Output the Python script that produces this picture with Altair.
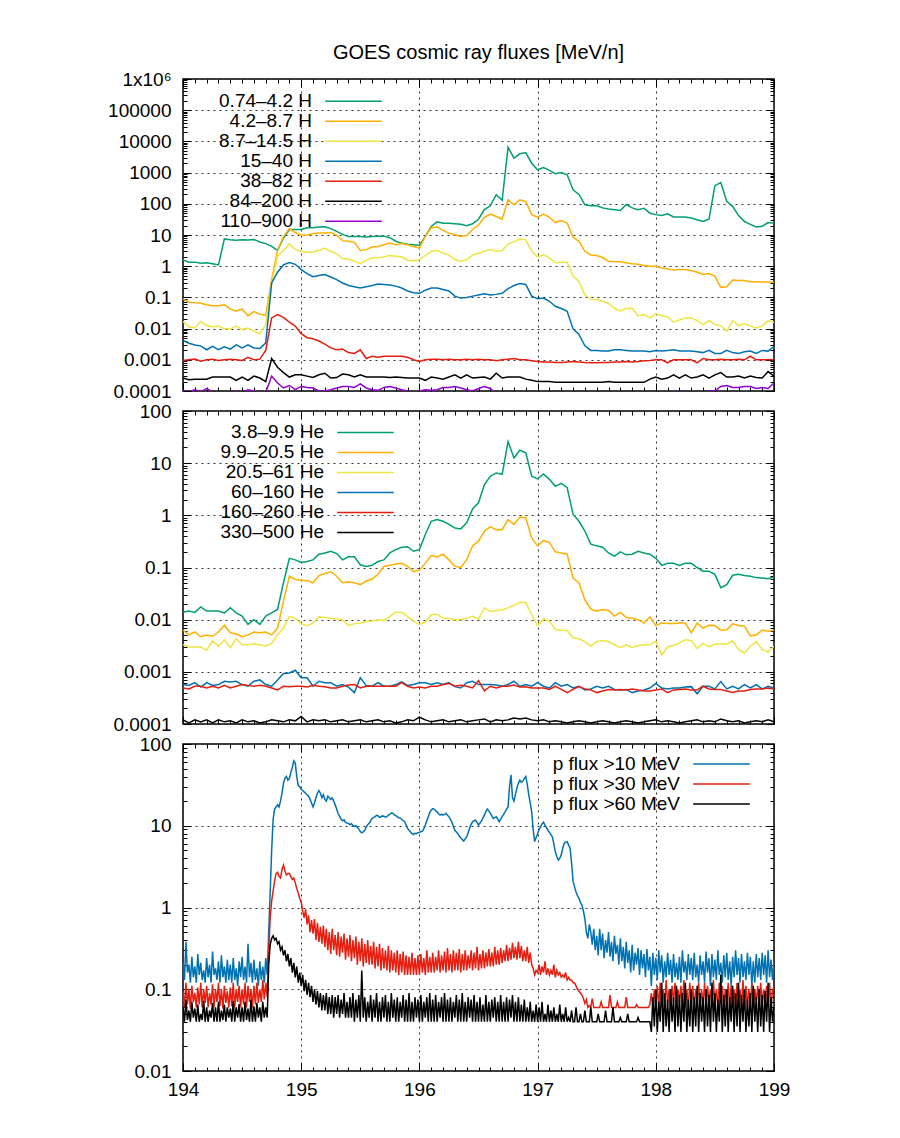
import altair as alt
import pandas as pd

TITLE = "GOES cosmic ray fluxes [MeV/n]"
FONT = "Liberation Sans"

T_START = 194.0
STEP_A = 0.05     # sampling of panels 1 and 2
STEP_B = 0.0125   # sampling of panel 3

X_MAJOR = [194, 195, 196, 197, 198, 199]
X_LABELS = ["194", "195", "196", "197", "198", "199"]

GREEN, ORANGE, YELLOW, BLUE, RED, BLACK, PURPLE = (
    "#009e73", "#ffb000", "#f0e442", "#0072b2", "#e51e10", "#000000", "#9400d3")

# ---------------- panel 1 : protons ----------------
H_NAMES = ["0.74–4.2 H", "4.2–8.7 H", "8.7–14.5 H", "15–40 H", "38–82 H", "84–200 H", "110–900 H"]
H_COLORS = [GREEN, ORANGE, YELLOW, BLUE, RED, BLACK, PURPLE]

H_074_42 = [1.6, 1.35, 1.35, 1.25, 1.3, 1.2, 1.1, 7.5, 7.1, 6.8,
            7.1, 6.9, 7.2, 6.0, 5.3, 4.3, 3.2, 8.0, 15, 15,
            15, 17, 17, 18, 18.5, 16, 13, 10.5, 8.9, 8.9,
            8.9, 8.7, 8.9, 9.2, 9.2, 8.2, 6.3, 5.5, 5.1, 4.9,
            4.6, 9.0, 18.7, 26.5, 24, 24, 23, 22, 20, 23,
            32, 65, 86, 195, 130, 6500, 2900, 4000, 4400, 2000,
            1230, 1450, 1180, 920, 1000, 850, 280, 200, 93, 86,
            86, 74, 68, 65, 61, 95, 74, 65, 72, 50,
            45, 42, 48, 38, 38, 38, 35, 31, 27, 32,
            380, 480, 120, 83, 42, 27, 22, 18, 19, 25, 24]
H_42_87 = [0.089, 0.07, 0.068, 0.065, 0.058, 0.054, 0.054, 0.058, 0.042, 0.037,
           0.042, 0.026, 0.035, 0.029, 0.027, 0.37, 3.2, 8.9, 16, 12,
           9.8, 10, 11, 11.5, 11.5, 12, 9.8, 6.6, 6.3, 5.8,
           3.2, 3.4, 4.1, 4.3, 4.9, 5.5, 4.9, 5.3, 4.9, 4.3,
           3.8, 9, 17, 18, 14, 11.5, 10.2, 9, 9.6, 15,
           21, 37, 47, 39, 32, 135, 93, 135, 120, 45,
           37, 47, 37, 25, 29, 24, 8.5, 6.3, 3.0, 2.3,
           2.2, 1.9, 1.45, 1.4, 1.4, 1.3, 1.2, 1.15, 1.05, 1.0,
           1.0, 0.88, 0.82, 0.75, 0.78, 0.78, 0.73, 0.64, 0.54, 0.58,
           0.48, 0.21, 0.22, 0.36, 0.35, 0.35, 0.32, 0.32, 0.31, 0.31, 0.3]
H_87_145 = [0.017, 0.0115, 0.0105, 0.017, 0.0125, 0.0115, 0.012, 0.0098, 0.0098, 0.012,
            0.0093, 0.0105, 0.0082, 0.0069, 0.0135, 0.29, 2.1, 3.2, 5.2, 3.4,
            3.0, 2.8, 2.8, 3.2, 3.8, 3.0, 2.5, 1.76, 1.7, 1.45,
            1.2, 1.55, 1.85, 1.85, 2.0, 2.2, 2.1, 2.0, 1.55, 1.5,
            1.6, 2.2, 3.0, 3.2, 2.6, 2.3, 1.6, 1.45, 1.6, 2.3,
            2.6, 3.0, 3.4, 3.0, 3.2, 5.2, 6.0, 7.6, 7.0, 3.0,
            2.0, 2.3, 1.85, 1.3, 1.35, 1.35, 0.48, 0.32, 0.12, 0.088,
            0.085, 0.075, 0.064, 0.044, 0.037, 0.044, 0.045, 0.026, 0.028, 0.022,
            0.03, 0.026, 0.024, 0.016, 0.019, 0.022, 0.022, 0.018, 0.0135, 0.018,
            0.0135, 0.0125, 0.0082, 0.018, 0.0125, 0.0145, 0.012, 0.0105, 0.012, 0.018, 0.016]
H_15_40 = [0.0042, 0.0034, 0.003, 0.0028, 0.0021, 0.0027, 0.0021, 0.0026, 0.0022, 0.003,
           0.0024, 0.003, 0.0024, 0.0023, 0.0035, 0.29, 0.64, 1.1, 1.3, 1.15,
           0.78, 0.58, 0.46, 0.5, 0.54, 0.45, 0.37, 0.29, 0.24, 0.22,
           0.2, 0.22, 0.24, 0.27, 0.26, 0.25, 0.23, 0.2, 0.16, 0.14,
           0.135, 0.17, 0.2, 0.2, 0.18, 0.16, 0.11, 0.095, 0.1, 0.11,
           0.12, 0.13, 0.12, 0.125, 0.135, 0.19, 0.24, 0.28, 0.26, 0.11,
           0.09, 0.095, 0.075, 0.052, 0.044, 0.036, 0.0098, 0.0065, 0.0028, 0.002,
           0.002, 0.0019, 0.0019, 0.0021, 0.0021, 0.002, 0.0019, 0.0019, 0.0019, 0.0018,
           0.002, 0.0019, 0.002, 0.0021, 0.0019, 0.0019, 0.0019, 0.0018, 0.0017, 0.002,
           0.0016, 0.0016, 0.002, 0.0017, 0.0016, 0.0018, 0.0019, 0.0016, 0.002, 0.0019, 0.0027]
H_38_82 = [0.00095, 0.001, 0.00105, 0.0009, 0.001, 0.00105, 0.00095, 0.001, 0.00105, 0.001,
           0.00095, 0.0012, 0.001, 0.00105, 0.002, 0.022, 0.028, 0.023, 0.016, 0.012,
           0.0069, 0.0051, 0.0047, 0.004, 0.0032, 0.0024, 0.0021, 0.0022, 0.0017, 0.0016,
           0.0021, 0.0011, 0.0013, 0.0012, 0.0013, 0.0013, 0.0013, 0.0013, 0.0012, 0.001,
           0.00088, 0.001, 0.00105, 0.00105, 0.001, 0.00105, 0.001, 0.001, 0.00105, 0.001,
           0.00105, 0.001, 0.001, 0.00093, 0.001, 0.00105, 0.0011, 0.001, 0.001, 0.00093,
           0.00088, 0.00085, 0.00085, 0.00082, 0.00082, 0.00085, 0.00088, 0.00085, 0.00082, 0.0008,
           0.0008, 0.00082, 0.00082, 0.00085, 0.00085, 0.00088, 0.00085, 0.00088, 0.00093, 0.00095,
           0.001, 0.001, 0.0008, 0.001, 0.001, 0.001, 0.001, 0.0008, 0.0011, 0.001,
           0.001, 0.00105, 0.001, 0.001, 0.00105, 0.001, 0.0013, 0.001, 0.001, 0.001, 0.001]
H_84_200 = [0.00026, 0.00023, 0.00024, 0.00024, 0.00024, 0.00028, 0.00028, 0.00028, 0.00028, 0.00022,
            0.00028, 0.00022, 0.0003, 0.00026, 0.0002, 0.0011, 0.00058, 0.00039, 0.00028, 0.00033,
            0.00033, 0.0003, 0.00027, 0.00033, 0.00037, 0.00026, 0.00027, 0.00035, 0.00033, 0.00028,
            0.00033, 0.00028, 0.00028, 0.00028, 0.00028, 0.00027, 0.00028, 0.00027, 0.00026, 0.00026,
            0.00026, 0.00022, 0.00028, 0.00026, 0.00024, 0.00028, 0.00033, 0.00026, 0.00033, 0.00026,
            0.00027, 0.00028, 0.00024, 0.00037, 0.00026, 0.00028, 0.00028, 0.00028, 0.00024, 0.00022,
            0.0002, 0.0002, 0.0002, 0.00019, 0.00019, 0.00019, 0.00019, 0.00019, 0.00019, 0.00019,
            0.00019, 0.00019, 0.0002, 0.00019, 0.00019, 0.00019, 0.00019, 0.00019, 0.00019, 0.00024,
            0.00028, 0.00024, 0.00026, 0.00033, 0.00026, 0.00033, 0.00026, 0.00028, 0.00033, 0.00026,
            0.00033, 0.00039, 0.00028, 0.00028, 0.0003, 0.00026, 0.0003, 0.00027, 0.00026, 0.00042, 0.0003]
H_110_900 = [0.000105, 0.000095, 0.00011, 0.000095, 0.00012, 0.000095, 0.00009, 0.00009, 0.00009, 0.0001,
             0.00009, 0.00011, 0.0001, 0.00009, 0.00009, 0.0003, 0.00018, 0.000125, 0.00015, 0.00011,
             0.00014, 0.00013, 0.000125, 0.0001, 0.0001, 0.00011, 0.000125, 0.00014, 0.00014, 0.00013,
             0.00017, 0.000125, 0.00011, 0.000105, 0.00013, 0.00014, 0.000125, 0.00011, 0.0001, 0.00009,
             0.0001, 0.00011, 0.000105, 0.00011, 0.00013, 0.00013, 0.00014, 0.000125, 0.00011, 0.0001,
             0.00012, 0.00014, 0.00012, 0.00008, 0.00007, 0.00007, 0.00007, 0.00007, 0.00007, 0.00007,
             0.00007, 0.00007, 0.00007, 0.00007, 0.00007, 0.00007, 0.00007, 0.00007, 0.00007, 0.00007,
             0.00007, 0.00007, 0.00007, 0.00007, 0.00007, 0.00007, 0.00007, 0.00007, 0.00007, 0.00007,
             0.00007, 0.00007, 0.00007, 0.00007, 0.0001, 0.00009, 0.00009, 0.00008, 0.00009, 0.0001,
             0.0001, 0.00014, 0.00015, 0.00013, 0.00013, 0.00014, 0.00014, 0.00012, 0.00013, 0.00012, 0.00018]

# ---------------- panel 2 : helium ----------------
HE_NAMES = ["3.8–9.9 He", "9.9–20.5 He", "20.5–61 He", "60–160 He", "160–260 He", "330–500 He"]
HE_COLORS = [GREEN, ORANGE, YELLOW, BLUE, RED, BLACK]

HE_38_99 = [0.0138, 0.0146, 0.0138, 0.0175, 0.0146, 0.0146, 0.0146, 0.0135, 0.017, 0.0135,
            0.0117, 0.0081, 0.01, 0.0081, 0.0117, 0.0135, 0.0157, 0.051, 0.15, 0.14,
            0.125, 0.13, 0.14, 0.18, 0.19, 0.205, 0.185, 0.14, 0.16, 0.16,
            0.113, 0.105, 0.11, 0.13, 0.14, 0.19, 0.22, 0.245, 0.25, 0.205,
            0.22, 0.43, 0.77, 0.83, 0.77, 0.67, 0.57, 0.55, 0.72, 1.33,
            1.74, 3.9, 5.6, 6.5, 6.1, 26, 12.6, 17.7, 15.8, 5.6,
            5.0, 6.2, 4.9, 3.6, 4.1, 3.4, 1.05, 0.77, 0.5, 0.28,
            0.26, 0.245, 0.19, 0.165, 0.2, 0.175, 0.18, 0.205, 0.19, 0.18,
            0.15, 0.11, 0.12, 0.12, 0.11, 0.12, 0.12, 0.1, 0.085, 0.085,
            0.074, 0.041, 0.047, 0.071, 0.074, 0.07, 0.068, 0.064, 0.063, 0.061, 0.066]
HE_99_205 = [0.0063, 0.0051, 0.0058, 0.0047, 0.0051, 0.0048, 0.0058, 0.0078, 0.0056, 0.0053,
             0.0047, 0.0051, 0.0058, 0.0056, 0.0058, 0.0051, 0.0069, 0.0227, 0.068, 0.059,
             0.057, 0.056, 0.051, 0.07, 0.077, 0.083, 0.068, 0.051, 0.053, 0.051,
             0.047, 0.055, 0.06, 0.074, 0.105, 0.11, 0.117, 0.12, 0.105, 0.083,
             0.089, 0.12, 0.17, 0.16, 0.18, 0.14, 0.105, 0.1, 0.14, 0.26,
             0.32, 0.5, 0.6, 0.53, 0.53, 0.83, 0.67, 0.93, 0.9, 0.37,
             0.26, 0.33, 0.3, 0.2, 0.19, 0.18, 0.063, 0.051, 0.024, 0.016,
             0.0146, 0.0157, 0.015, 0.0117, 0.0138, 0.011, 0.0107, 0.01, 0.0086, 0.0113,
             0.0077, 0.0086, 0.0084, 0.0084, 0.0086, 0.0086, 0.0056, 0.0086, 0.0069, 0.0078,
             0.0077, 0.0063, 0.0064, 0.0083, 0.0077, 0.0075, 0.0049, 0.0051, 0.0063, 0.006, 0.0063]
HE_205_61 = [0.0033, 0.003, 0.003, 0.003, 0.0026, 0.0039, 0.0031, 0.0041, 0.0029, 0.0043,
             0.0033, 0.0033, 0.0034, 0.0033, 0.0031, 0.0035, 0.0051, 0.0069, 0.0116, 0.0106,
             0.0084, 0.0077, 0.0086, 0.0113, 0.011, 0.0107, 0.0103, 0.01, 0.0077, 0.0084,
             0.0086, 0.0092, 0.0094, 0.01, 0.0096, 0.0116, 0.0138, 0.0138, 0.0116, 0.0094,
             0.0081, 0.009, 0.0125, 0.0125, 0.0107, 0.0105, 0.01, 0.0101, 0.0107, 0.0116,
             0.0103, 0.0168, 0.0144, 0.015, 0.0155, 0.0168, 0.0188, 0.0216, 0.0214, 0.0125,
             0.0077, 0.0103, 0.0094, 0.0065, 0.0063, 0.0062, 0.0045, 0.0043, 0.0038, 0.0031,
             0.0038, 0.004, 0.0038, 0.0033, 0.0029, 0.0033, 0.0029, 0.0032, 0.0033, 0.0033,
             0.0039, 0.0021, 0.003, 0.0032, 0.0036, 0.0041, 0.004, 0.0028, 0.0035, 0.003,
             0.0034, 0.0034, 0.0034, 0.0039, 0.0027, 0.0023, 0.0031, 0.0038, 0.0027, 0.0024, 0.0031]
HE_60_160 = [0.00057, 0.00055, 0.00062, 0.00051, 0.00062, 0.00055, 0.00057, 0.00066, 0.00064, 0.00066,
             0.00057, 0.00053, 0.00066, 0.0007, 0.00057, 0.00053, 0.0007, 0.00093, 0.00095, 0.00107,
             0.00077, 0.00077, 0.00053, 0.00066, 0.00062, 0.00062, 0.00053, 0.00057, 0.00051, 0.0004,
             0.00077, 0.00055, 0.00053, 0.00062, 0.00053, 0.00053, 0.00057, 0.00064, 0.00055, 0.00057,
             0.00062, 0.00062, 0.00057, 0.00062, 0.00057, 0.00062, 0.00052, 0.00049, 0.00062, 0.00066,
             0.00057, 0.00057, 0.00057, 0.00056, 0.00053, 0.00057, 0.00066, 0.00053, 0.00057, 0.00053,
             0.00062, 0.00053, 0.00049, 0.00062, 0.00053, 0.00057, 0.00049, 0.00053, 0.00045, 0.00047,
             0.00053, 0.00049, 0.00053, 0.00046, 0.00045, 0.00046, 0.0004, 0.00043, 0.00045, 0.00049,
             0.0006, 0.00049, 0.00047, 0.00049, 0.00049, 0.00051, 0.00052, 0.00038, 0.00053, 0.00053,
             0.00047, 0.00065, 0.00047, 0.00053, 0.00047, 0.00057, 0.00049, 0.00057, 0.00047, 0.00053, 0.00049]
HE_160_260 = [0.00049, 0.00047, 0.00053, 0.00053, 0.00049, 0.00053, 0.00049, 0.00055, 0.00049, 0.00053,
              0.00057, 0.00055, 0.00053, 0.00055, 0.00053, 0.00049, 0.00045, 0.00053, 0.00052, 0.00053,
              0.00053, 0.00051, 0.00055, 0.00053, 0.00052, 0.00049, 0.00049, 0.00053, 0.00056, 0.00057,
              0.00049, 0.00053, 0.00053, 0.00053, 0.00053, 0.00053, 0.00053, 0.00062, 0.00053, 0.00049,
              0.00051, 0.00049, 0.00053, 0.00053, 0.00057, 0.0006, 0.00053, 0.00055, 0.00053, 0.00049,
              0.00068, 0.00043, 0.00053, 0.00049, 0.00053, 0.00053, 0.00056, 0.00051, 0.00052, 0.00049,
              0.00049, 0.00049, 0.00046, 0.00053, 0.00046, 0.0004, 0.00046, 0.00052, 0.00047, 0.00045,
              0.0004, 0.00043, 0.00046, 0.00045, 0.00046, 0.00045, 0.00047, 0.00045, 0.00043, 0.00043,
              0.00045, 0.00047, 0.0004, 0.00045, 0.00046, 0.00047, 0.00045, 0.00045, 0.00053, 0.00047,
              0.00046, 0.00046, 0.00043, 0.0004, 0.00043, 0.00043, 0.00046, 0.00047, 0.00047, 0.00049, 0.00047]
HE_330_500 = [0.00012, 0.000105, 0.00012, 0.00011, 0.00012, 0.000105, 0.00012, 0.00011, 0.000115, 0.000105,
              0.00012, 0.00011, 0.000115, 0.000105, 0.00011, 0.00012, 0.000115, 0.00011, 0.00012, 0.000115,
              0.00014, 0.00011, 0.00012, 0.000115, 0.00012, 0.00011, 0.000115, 0.00012, 0.00011, 0.000115,
              0.00012, 0.00011, 0.000115, 0.00012, 0.00011, 0.000115, 0.000105, 0.00011, 0.00012, 0.000115,
              0.000135, 0.00012, 0.00011, 0.000115, 0.00012, 0.00011, 0.000115, 0.00012, 0.00011, 0.000115,
              0.00012, 0.000125, 0.00011, 0.00012, 0.000115, 0.00012, 0.00013, 0.000125, 0.00013, 0.00012,
              0.000115, 0.00012, 0.00011, 0.000115, 0.00011, 0.000105, 0.00011, 0.000115, 0.00011, 0.000105,
              0.00011, 0.000115, 0.00011, 0.000105, 0.00011, 0.000115, 0.00011, 0.000105, 0.00011, 0.000115,
              0.00012, 0.00011, 0.000115, 0.00011, 0.000105, 0.00011, 0.000115, 0.00012, 0.00011, 0.000115,
              0.00011, 0.000125, 0.000115, 0.00011, 0.000115, 0.000105, 0.00011, 0.000115, 0.00011, 0.00012, 0.00011]

# ---------------- panel 3 : integral proton flux (8 samples per 0.1) ----------------
P_NAMES = ["p flux >10 MeV", "p flux >30 MeV", "p flux >60 MeV"]
P_COLORS = [BLUE, RED, BLACK]

P_10 = [0.22, 0.13, 0.38, 0.16, 0.2, 0.12, 0.25, 0.14,
        0.19, 0.12, 0.27, 0.15, 0.21, 0.13, 0.17, 0.12,
        0.24, 0.14, 0.2, 0.12, 0.29, 0.15, 0.18, 0.13,
        0.22, 0.12, 0.26, 0.14, 0.19, 0.12, 0.23, 0.13,
        0.2, 0.12, 0.24, 0.13, 0.18, 0.11, 0.22, 0.14,
        0.25, 0.13, 0.19, 0.12, 0.36, 0.14, 0.21, 0.12,
        0.23, 0.13, 0.18, 0.11, 0.22, 0.13, 0.19, 0.12,
        0.24, 0.15, 0.5, 1.5, 5, 12, 16, 17,
        18, 17, 20, 25, 33, 38, 40, 36,
        38, 45, 52, 62, 58, 40, 31, 30,
        28, 27, 26, 25, 24, 23, 21, 19,
        17, 19, 22, 25, 27, 25, 22, 24,
        21, 20, 23, 22, 21, 22, 20, 18,
        16, 14, 13, 12, 11.5, 11.8, 11, 10.8,
        10.7, 10.3, 10.6, 10.1, 9.8, 10.0, 9.5, 9.1,
        8.5, 8.2, 8.4, 8.8, 9.7, 10.3, 10.7, 11.5,
        12.3, 12.6, 12.9, 13.4, 13.3, 12.7, 12.9, 13.2,
        13.1, 12.7, 12.9, 13.5, 13.8, 14.3, 14.2, 13.6,
        13.3, 12.9, 12.5, 12.4, 12, 11.6, 11.2, 10.2,
        9.3, 8.8, 8.4, 8.0, 7.8, 8.1, 8.0, 8.2,
        8.3, 8.5, 8.6, 9.2, 10.2, 11.5, 12.9, 14.5,
        15.5, 16.2, 16, 15.2, 14.8, 14.0, 13.5, 13.9,
        13.5, 13.8, 14.2, 13.4, 12.9, 12.0, 11, 9.8,
        8.8, 8.4, 8, 7.5, 7.1, 6.8, 6.5, 6.9,
        7.3, 8.2, 9.3, 10.4, 11.2, 11.5, 11.7, 11.0,
        10.2, 10.8, 11.4, 12.5, 13.5, 15, 16, 15.2,
        14.2, 13.2, 12.3, 12.6, 12.9, 12.1, 11.2, 12.0,
        12.9, 13.8, 14.8, 16, 17, 30, 42, 22,
        20, 24, 29, 33, 36, 34, 35, 38,
        40, 32, 24, 19, 14.8, 9, 6.4, 7.2,
        8, 9, 9.7, 10.5, 11, 10.2, 9.5, 8.8,
        8.3, 7.8, 7.3, 6, 4.8, 4.2, 3.8, 4.0,
        4.4, 5.3, 6.1, 6.3, 6.4, 5.8, 5.3, 3.5,
        2.1, 1.8, 1.55, 1.4, 1.3, 1.15, 1.07, 0.9,
        0.73, 0.5, 0.42, 0.62, 0.5, 0.35, 0.55, 0.3,
        0.45, 0.26, 0.55, 0.3, 0.48, 0.24, 0.4, 0.28,
        0.5, 0.25, 0.38, 0.22, 0.45, 0.27, 0.35, 0.2,
        0.42, 0.22, 0.33, 0.18, 0.38, 0.21, 0.3, 0.16,
        0.35, 0.17, 0.28, 0.2, 0.32, 0.15, 0.3, 0.18,
        0.27, 0.14, 0.31, 0.17, 0.25, 0.11, 0.28, 0.15,
        0.24, 0.13, 0.3, 0.16, 0.26, 0.12, 0.22, 0.14,
        0.28, 0.15, 0.23, 0.12, 0.27, 0.14, 0.21, 0.13,
        0.25, 0.12, 0.3, 0.16, 0.22, 0.13, 0.27, 0.15,
        0.24, 0.13, 0.28, 0.14, 0.2, 0.12, 0.26, 0.15,
        0.22, 0.12, 0.29, 0.16, 0.24, 0.11, 0.27, 0.14,
        0.23, 0.13, 0.3, 0.15, 0.21, 0.12, 0.26, 0.14,
        0.28, 0.13, 0.22, 0.11, 0.25, 0.14, 0.3, 0.15,
        0.24, 0.12, 0.27, 0.14, 0.22, 0.13, 0.28, 0.15,
        0.25, 0.11, 0.22, 0.12, 0.27, 0.14, 0.24, 0.13,
        0.28, 0.15, 0.26, 0.12, 0.3, 0.14, 0.23, 0.13,
        0.22]
P_30 = [0.095, 0.06, 0.12, 0.065, 0.1, 0.058, 0.11, 0.07,
        0.09, 0.06, 0.105, 0.065, 0.12, 0.06, 0.1, 0.068,
        0.11, 0.06, 0.09, 0.065, 0.115, 0.06, 0.1, 0.07,
        0.12, 0.062, 0.1, 0.058, 0.11, 0.068, 0.095, 0.06,
        0.105, 0.062, 0.12, 0.06, 0.1, 0.07, 0.11, 0.06,
        0.1, 0.065, 0.12, 0.06, 0.11, 0.07, 0.1, 0.06,
        0.11, 0.065, 0.12, 0.068, 0.1, 0.07, 0.13, 0.075,
        0.12, 0.08, 0.3, 0.74, 1.2, 1.6, 2.1, 2.6,
        2.7, 2.4, 2.3, 2.9, 3.3, 2.8, 2.5, 2.6,
        2.6, 2.4, 2.2, 2.3, 2.0, 1.7, 1.5, 1.3,
        1.17, 0.9, 0.75, 0.95, 0.62, 0.8, 0.5, 0.7,
        0.48, 0.72, 0.4, 0.65, 0.38, 0.58, 0.36, 0.6,
        0.33, 0.55, 0.3, 0.5, 0.27, 0.55, 0.3, 0.46,
        0.26, 0.5, 0.25, 0.44, 0.28, 0.48, 0.23, 0.42,
        0.25, 0.46, 0.22, 0.4, 0.24, 0.44, 0.2, 0.38,
        0.22, 0.42, 0.19, 0.36, 0.21, 0.4, 0.2, 0.34,
        0.2, 0.38, 0.18, 0.33, 0.19, 0.36, 0.17, 0.32,
        0.18, 0.3, 0.17, 0.34, 0.16, 0.3, 0.17, 0.28,
        0.16, 0.3, 0.15, 0.27, 0.16, 0.29, 0.15, 0.26,
        0.15, 0.25, 0.15, 0.28, 0.15, 0.24, 0.15, 0.26,
        0.15, 0.27, 0.16, 0.24, 0.15, 0.3, 0.16, 0.25,
        0.16, 0.28, 0.16, 0.25, 0.17, 0.3, 0.16, 0.26,
        0.17, 0.29, 0.16, 0.32, 0.17, 0.27, 0.16, 0.3,
        0.17, 0.28, 0.17, 0.31, 0.16, 0.27, 0.17, 0.3,
        0.17, 0.26, 0.18, 0.3, 0.17, 0.28, 0.18, 0.33,
        0.17, 0.27, 0.18, 0.3, 0.18, 0.28, 0.19, 0.31,
        0.19, 0.28, 0.19, 0.33, 0.2, 0.3, 0.2, 0.32,
        0.21, 0.3, 0.22, 0.35, 0.22, 0.32, 0.23, 0.37,
        0.24, 0.33, 0.23, 0.38, 0.24, 0.34, 0.22, 0.3,
        0.22, 0.33, 0.21, 0.28, 0.2, 0.18, 0.15, 0.17,
        0.16, 0.2, 0.15, 0.19, 0.16, 0.22, 0.15, 0.18,
        0.15, 0.17, 0.15, 0.2, 0.14, 0.17, 0.15, 0.16,
        0.14, 0.15, 0.14, 0.16, 0.13, 0.14, 0.13, 0.13,
        0.12, 0.12, 0.11, 0.1, 0.095, 0.09, 0.085, 0.077,
        0.067, 0.075, 0.06, 0.063, 0.06, 0.077, 0.06, 0.06,
        0.06, 0.06, 0.06, 0.07, 0.06, 0.06, 0.06, 0.06,
        0.06, 0.085, 0.06, 0.06, 0.06, 0.06, 0.07, 0.06,
        0.06, 0.06, 0.06, 0.06, 0.08, 0.06, 0.06, 0.06,
        0.06, 0.06, 0.06, 0.065, 0.06, 0.06, 0.06, 0.06,
        0.06, 0.06, 0.06, 0.06, 0.065, 0.09, 0.06, 0.1,
        0.065, 0.11, 0.06, 0.12, 0.07, 0.1, 0.06, 0.13,
        0.065, 0.1, 0.06, 0.11, 0.07, 0.12, 0.06, 0.1,
        0.07, 0.11, 0.06, 0.13, 0.065, 0.1, 0.06, 0.12,
        0.065, 0.11, 0.06, 0.1, 0.07, 0.12, 0.06, 0.1,
        0.065, 0.12, 0.06, 0.11, 0.07, 0.1, 0.06, 0.13,
        0.065, 0.1, 0.06, 0.12, 0.07, 0.11, 0.06, 0.1,
        0.065, 0.12, 0.06, 0.11, 0.065, 0.1, 0.06, 0.12,
        0.07, 0.1, 0.06, 0.13, 0.065, 0.11, 0.06, 0.1,
        0.065, 0.12, 0.06, 0.1, 0.07, 0.11, 0.06, 0.12,
        0.065, 0.1, 0.06, 0.11, 0.07, 0.12, 0.06, 0.1,
        0.1]
P_60 = [0.06, 0.04, 0.075, 0.042, 0.055, 0.04, 0.07, 0.045,
        0.058, 0.04, 0.065, 0.04, 0.05, 0.042, 0.072, 0.04,
        0.06, 0.04, 0.055, 0.045, 0.068, 0.04, 0.06, 0.04,
        0.07, 0.04, 0.055, 0.042, 0.065, 0.04, 0.06, 0.045,
        0.058, 0.04, 0.072, 0.04, 0.06, 0.045, 0.066, 0.04,
        0.06, 0.04, 0.07, 0.042, 0.058, 0.04, 0.075, 0.04,
        0.062, 0.04, 0.068, 0.045, 0.06, 0.04, 0.07, 0.045,
        0.06, 0.045, 0.2, 0.35, 0.42, 0.45, 0.4, 0.42,
        0.36, 0.38, 0.3, 0.33, 0.26, 0.3, 0.22, 0.27,
        0.19, 0.24, 0.16, 0.21, 0.14, 0.19, 0.12, 0.16,
        0.11, 0.15, 0.095, 0.13, 0.085, 0.12, 0.08, 0.11,
        0.07, 0.1, 0.065, 0.095, 0.06, 0.09, 0.055, 0.085,
        0.055, 0.09, 0.05, 0.08, 0.05, 0.085, 0.045, 0.08,
        0.05, 0.085, 0.045, 0.075, 0.05, 0.09, 0.045, 0.07,
        0.045, 0.08, 0.045, 0.09, 0.04, 0.075, 0.045, 0.085,
        0.04, 0.17, 0.045, 0.08, 0.04, 0.07, 0.045, 0.085,
        0.04, 0.075, 0.045, 0.09, 0.04, 0.07, 0.04, 0.08,
        0.045, 0.085, 0.04, 0.07, 0.04, 0.09, 0.045, 0.075,
        0.04, 0.08, 0.04, 0.07, 0.045, 0.085, 0.04, 0.075,
        0.04, 0.09, 0.04, 0.07, 0.04, 0.08, 0.045, 0.075,
        0.04, 0.085, 0.04, 0.07, 0.045, 0.08, 0.04, 0.09,
        0.04, 0.075, 0.04, 0.085, 0.04, 0.07, 0.045, 0.08,
        0.04, 0.09, 0.04, 0.075, 0.04, 0.08, 0.04, 0.07,
        0.045, 0.085, 0.04, 0.075, 0.04, 0.09, 0.04, 0.07,
        0.04, 0.08, 0.045, 0.075, 0.04, 0.085, 0.04, 0.07,
        0.04, 0.08, 0.04, 0.065, 0.04, 0.085, 0.04, 0.07,
        0.04, 0.075, 0.045, 0.08, 0.04, 0.07, 0.04, 0.085,
        0.04, 0.07, 0.04, 0.08, 0.04, 0.075, 0.045, 0.085,
        0.04, 0.07, 0.04, 0.08, 0.04, 0.065, 0.04, 0.075,
        0.04, 0.06, 0.04, 0.07, 0.04, 0.055, 0.04, 0.065,
        0.04, 0.06, 0.04, 0.07, 0.04, 0.05, 0.04, 0.065,
        0.04, 0.055, 0.04, 0.06, 0.04, 0.05, 0.04, 0.065,
        0.04, 0.05, 0.04, 0.06, 0.04, 0.045, 0.04, 0.055,
        0.04, 0.04, 0.06, 0.04, 0.04, 0.05, 0.04, 0.04,
        0.055, 0.04, 0.04, 0.04, 0.06, 0.04, 0.04, 0.04,
        0.04, 0.05, 0.04, 0.04, 0.04, 0.04, 0.055, 0.04,
        0.04, 0.04, 0.04, 0.06, 0.04, 0.04, 0.04, 0.04,
        0.045, 0.04, 0.04, 0.04, 0.04, 0.05, 0.04, 0.04,
        0.04, 0.04, 0.04, 0.04, 0.045, 0.04, 0.04, 0.04,
        0.04, 0.04, 0.04, 0.04, 0.04, 0.03, 0.08, 0.035,
        0.1, 0.03, 0.07, 0.04, 0.12, 0.03, 0.09, 0.035,
        0.075, 0.03, 0.1, 0.04, 0.08, 0.03, 0.11, 0.035,
        0.085, 0.03, 0.09, 0.04, 0.12, 0.03, 0.075, 0.035,
        0.1, 0.03, 0.08, 0.035, 0.11, 0.03, 0.09, 0.04,
        0.08, 0.03, 0.1, 0.035, 0.085, 0.03, 0.12, 0.04,
        0.09, 0.03, 0.075, 0.04, 0.15, 0.03, 0.085, 0.035,
        0.1, 0.03, 0.08, 0.04, 0.11, 0.03, 0.09, 0.035,
        0.12, 0.03, 0.085, 0.04, 0.1, 0.03, 0.075, 0.035,
        0.09, 0.03, 0.11, 0.04, 0.08, 0.03, 0.1, 0.035,
        0.085, 0.03, 0.095, 0.04, 0.12, 0.03, 0.08, 0.04,
        0.06]

# y-axis tick values / labels of the three panels
Y1_TICKS = [0.0001, 0.001, 0.01, 0.1, 1, 10, 100, 1000, 10000, 100000, 1000000]
Y1_LABELS = ["0.0001", "0.001", "0.01", "0.1", "1", "10", "100", "1000", "10000", "100000", "1x10⁶"]
Y2_TICKS = [0.0001, 0.001, 0.01, 0.1, 1, 10, 100]
Y2_LABELS = ["0.0001", "0.001", "0.01", "0.1", "1", "10", "100"]
Y3_TICKS = [0.01, 0.1, 1, 10, 100]
Y3_LABELS = ["0.01", "0.1", "1", "10", "100"]
MINOR_MULT = [2, 3, 4, 5, 6, 7, 8, 9]

WIDTH = 591
LABEL_SIZE = 19


def long_df(names, series, step):
    rows = []
    for name, vals in zip(names, series):
        for i, v in enumerate(vals):
            rows.append((round(T_START + step * i, 5), v, name))
    return pd.DataFrame(rows, columns=["t", "v", "series"])


def label_expr(ticks, labels):
    parts = [f"datum.value == {v} ? '{lab}'" for v, lab in zip(ticks, labels)]
    return " : ".join(parts) + " : ''"


def axis(orient, values, size, labels=None, grid=False, pad=20):
    kw = dict(orient=orient, values=values, tickSize={"expr": str(-size)},
              tickColor="black", tickWidth=1, domain=False, grid=grid,
              labels=labels is not None, minExtent=0)
    if grid:
        kw.update(gridDash=[2, 4], gridColor="#333333", gridWidth=1, gridOpacity=1)
    if labels is not None:
        kw.update(labelExpr=label_expr(values, labels), labelFont=FONT,
                  labelFontSize=LABEL_SIZE, labelColor="black", labelPadding=pad,
                  labelFlush=False, labelOverlap=False)
    return alt.Axis(**kw)


def panel(names, colors, series, step, yticks, ylabels, height, legend_xy,
          xlabels=None, title=None):
    df = long_df(names, series, step)
    ymin, ymax = yticks[0], yticks[-1]
    xs = alt.Scale(domain=[194, 199], nice=False, zero=False)
    ys = alt.Scale(type="log", domain=[ymin, ymax], nice=False)
    x_minor = [round(194 + 0.1 * i, 1) for i in range(1, 50) if i % 10 != 0]
    y_minor = [m * t for t in yticks[:-1] for m in MINOR_MULT]

    legend = alt.Legend(orient="none", legendX=legend_xy[0], legendY=legend_xy[1],
                        title=None, symbolType="M-4,0H4", symbolSize=200,
                        symbolStrokeWidth=1.5, labelAlign="right",
                        labelOffset={"expr": "-51"},
                        labelFont=FONT, labelFontSize=LABEL_SIZE, labelColor="black",
                        rowPadding={"expr": "-0.9"}, padding=0, labelLimit=300)

    lines = alt.Chart(df).mark_line(strokeWidth=1.5, clip=True).encode(
        x=alt.X("t:Q", scale=xs, title=None,
                axis=axis("bottom", X_MAJOR, 8, labels=xlabels, grid=True, pad=17)),
        y=alt.Y("v:Q", scale=ys, title=None,
                axis=axis("left", yticks, 8, labels=ylabels, grid=True, pad=20)),
        color=alt.Color("series:N", scale=alt.Scale(domain=names, range=colors),
                        sort=names, legend=legend),
    )

    frame = pd.DataFrame({"t": [194, 199], "v": [ymin, ymax]})

    def ghost(xo, xv, xsz, yo, yv, ysz):
        return alt.Chart(frame).mark_point(opacity=0, size=1).encode(
            x=alt.X("t:Q", scale=xs, title=None, axis=axis(xo, xv, xsz)),
            y=alt.Y("v:Q", scale=ys, title=None, axis=axis(yo, yv, ysz)),
        )

    layers = [lines,
              ghost("bottom", x_minor, 4, "left", y_minor, 4),
              ghost("top", X_MAJOR, 8, "right", yticks, 8),
              ghost("top", x_minor, 4, "right", y_minor, 4)]
    ch = alt.layer(*layers).resolve_axis(x="independent", y="independent")
    props = dict(width=WIDTH, height=height)
    if title is not None:
        props["title"] = alt.TitleParams(text=title, font=FONT, fontSize=20,
                                         fontWeight="normal", anchor="middle",
                                         frame="group", offset=7, color="black")
    return ch.properties(**props)


p1 = panel(H_NAMES, H_COLORS,
           [H_074_42, H_42_87, H_87_145, H_15_40, H_38_82, H_84_200, H_110_900],
           STEP_A, Y1_TICKS, Y1_LABELS, 312, (161, 12.8), title=TITLE)
p2 = panel(HE_NAMES, HE_COLORS,
           [HE_38_99, HE_99_205, HE_205_61, HE_60_160, HE_160_260, HE_330_500],
           STEP_A, Y2_TICKS, Y2_LABELS, 313, (173, 11.9))
p3 = panel(P_NAMES, P_COLORS, [P_10, P_30, P_60], STEP_B, Y3_TICKS, Y3_LABELS,
           327, (529, 10.5), xlabels=X_LABELS)

chart = (
    alt.vconcat(p1, p2, p3, spacing=20, bounds="flush")
    .resolve_scale(color="independent")
    .properties(background="white",
                padding={"left": 98, "top": 34, "right": 10, "bottom": 10})
    .configure_view(stroke="black", strokeWidth=1.5)
)

chart.save("out.html", embed_options={"renderer": "svg", "actions": False})
